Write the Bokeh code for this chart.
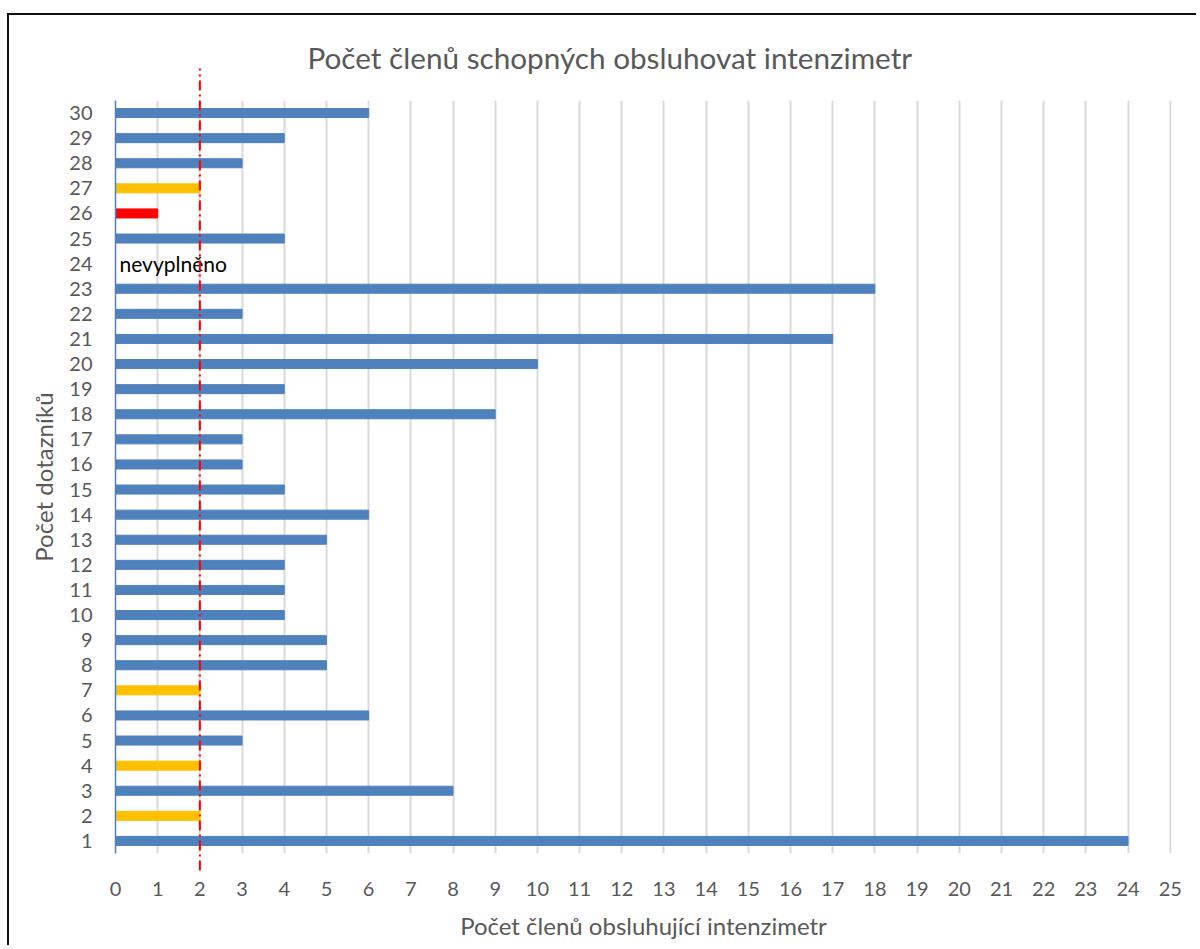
from bokeh.plotting import figure
from bokeh.models import Range1d, FixedTicker, ColumnDataSource
from bokeh.core.properties import value
from bokeh.embed import file_html
from bokeh.resources import INLINE

# ---- data ----
chart_title = "Počet členů schopných obsluhovat intenzimetr"
x_axis_title = "Počet členů obsluhující intenzimetr"
y_axis_title = "Počet dotazníků"
questionnaires = list(range(1, 31))
members = [24, 2, 8, 2, 3, 6, 2, 5, 5, 4, 4, 4, 5, 6, 4, 3, 3, 9, 4, 10,
           17, 3, 18, 0, 4, 1, 2, 3, 4, 6]
x_ticks = list(range(0, 26))
threshold = 2
missing_questionnaire = [24]
missing_text = ["nevyplněno"]

BLUE, YELLOW, RED = "#4f81bd", "#ffc000", "#ff0000"
bar_colors = [RED if v < threshold else (YELLOW if v == threshold else BLUE) for v in members]

FONT = "Lato"
GRAY = "#595959"

W, H = 1189, 932
p = figure(width=W, height=H, output_backend="svg", toolbar_location=None,
           x_range=Range1d(0, 25.03), y_range=Range1d(0.5, 30.5),
           min_border_left=106, min_border_right=27, min_border_top=85, min_border_bottom=94,
           title=chart_title)
p.styles = {"border-top": "2px solid #111", "border-left": "2px solid #111",
            "margin-top": "13px", "margin-left": "7px"}
p.outline_line_color = None

p.title.text_font = FONT
p.title.text_font_size = "29.7px"
p.title.text_font_style = "normal"
p.title.text_color = GRAY
p.title.align = "left"
p.title.offset = 192
p.title.vertical_align = "top"
p.title.standoff = 47

src = ColumnDataSource(dict(y=questionnaires, right=members, color=bar_colors))
p.hbar(y="y", left=0, right="right", height=0.36, color="color", source=src)

p.text(x=[0] * len(missing_questionnaire), y=missing_questionnaire, text=missing_text,
       x_offset=4, text_baseline="middle", text_align="left",
       text_font=value(FONT), text_font_size="21px", text_color="#000000")

p.segment(x0=[threshold], y0=[-0.18], x1=[threshold], y1=[31.77],
          line_color=RED, line_width=2, line_dash="10 4 2 4", level="overlay")

# grid
p.xgrid.ticker = FixedTicker(ticks=x_ticks)
p.xgrid.grid_line_color = "#d9d9d9"
p.xgrid.grid_line_width = 2
p.ygrid.grid_line_color = None

# x axis
p.xaxis.ticker = FixedTicker(ticks=x_ticks)
p.xaxis.axis_line_color = None
p.xaxis.major_tick_line_color = None
p.xaxis.minor_tick_line_color = None
p.xaxis.major_label_standoff = 22
p.xaxis.major_label_text_font = FONT
p.xaxis.major_label_text_font_size = "20px"
p.xaxis.major_label_text_color = GRAY
p.xaxis.axis_label = x_axis_title
p.xaxis.axis_label_text_font = FONT
p.xaxis.axis_label_text_font_size = "24px"
p.xaxis.axis_label_text_font_style = "normal"
p.xaxis.axis_label_text_color = GRAY
p.xaxis.axis_label_standoff = 12

# y axis
p.yaxis.ticker = FixedTicker(ticks=questionnaires)
p.yaxis.axis_line_color = BLUE
p.yaxis.axis_line_width = 1.5
p.yaxis.major_tick_line_color = None
p.yaxis.minor_tick_line_color = None
p.yaxis.major_label_standoff = 17
p.yaxis.major_label_text_font = FONT
p.yaxis.major_label_text_font_size = "20px"
p.yaxis.major_label_text_color = GRAY
p.yaxis.axis_label = y_axis_title
p.yaxis.axis_label_text_font = FONT
p.yaxis.axis_label_text_font_size = "24px"
p.yaxis.axis_label_text_font_style = "normal"
p.yaxis.axis_label_text_color = GRAY
p.yaxis.axis_label_standoff = 8

open("out.html", "w").write(file_html(p, INLINE))
